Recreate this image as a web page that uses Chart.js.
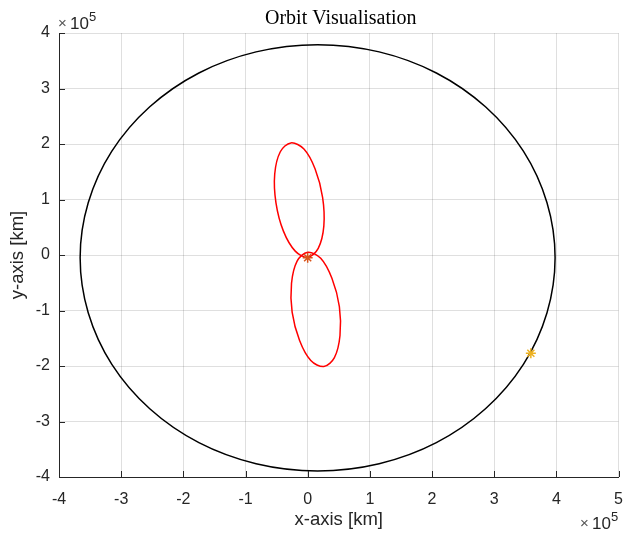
<!DOCTYPE html>
<html>
<head>
<meta charset="utf-8">
<title>Orbit Visualisation</title>
<script src="https://cdn.jsdelivr.net/npm/chart.js@4/dist/chart.umd.min.js"></script>
<style>
  html, body { margin: 0; padding: 0; background: #ffffff; }
  #wrap { width: 625px; height: 535px; }
</style>
</head>
<body>
<div id="wrap"><canvas id="orbit" width="625" height="535"></canvas></div>
<script>
// All positions are in units of 10^5 km (see the ×10^5 axis multipliers).

// Moon orbit around the Earth (closed path, counter-clockwise from the right)
const moonOrbitX = [3.98, 3.85, 3.47, 2.86, 2.07, 1.15, 0.16, -0.83, -1.75, -2.54, -3.15, -3.53,
                    -3.66, -3.53, -3.15, -2.54, -1.75, -0.83, 0.16, 1.15, 2.07, 2.86, 3.47, 3.85];
const moonOrbitY = [-0.05, 0.94, 1.87, 2.67, 3.28, 3.66, 3.79, 3.66, 3.28, 2.67, 1.87, 0.94,
                    -0.05, -1.04, -1.97, -2.77, -3.38, -3.76, -3.89, -3.76, -3.38, -2.77, -1.97, -1.04];

// Spacecraft trajectory: northern loop
const upperLoopX = [-0.27, -0.06, 0.12, 0.24, 0.26, 0.17, 0.00, -0.20, -0.39, -0.51, -0.53, -0.44];
const upperLoopY = [2.02, 1.91, 1.55, 1.04, 0.52, 0.12, -0.04, 0.07, 0.43, 0.94, 1.46, 1.86];

// Spacecraft trajectory: southern loop
const lowerLoopX = [0.26, 0.43, 0.52, 0.51, 0.39, 0.21, 0.00, -0.17, -0.26, -0.25, -0.13, 0.05];
const lowerLoopY = [-2.01, -1.85, -1.45, -0.93, -0.42, -0.06, 0.05, -0.11, -0.51, -1.03, -1.54, -1.90];

// Body markers [x, y]
const earthPos = [0.00, -0.05];
const moonPos = [3.59, -1.77];

// Axis ticks
const xTicks = [-4, -3, -2, -1, 0, 1, 2, 3, 4, 5];
const yTicks = [-4, -3, -2, -1, 0, 1, 2, 3, 4];

const toPoints = (xs, ys) => xs.map((x, i) => ({ x, y: ys[i] }));

const TEXT = '#262626';
const GRID = 'rgba(38,38,38,0.15)';
const SANS = '"Liberation Sans", Arial, Helvetica, sans-serif';
const SERIF = '"Liberation Serif", "Times New Roman", serif';
const CURVE_TENSION = 0.34;

// Turn datasets flagged `closed` into smooth closed curves
const closedCurves = {
  id: 'closedCurves',
  afterDatasetUpdate(chart, args) {
    const ds = chart.data.datasets[args.index];
    const line = args.meta.dataset;
    if (ds.closed && line) {
      line._loop = true;
      line._fullLoop = true;
      line._pointsUpdated = false;
      delete line._segments;
      delete line._path;
    }
  }
};

// Inward tick marks, titles and the ×10^5 multipliers
const decorations = {
  id: 'decorations',
  afterDraw(chart) {
    const { ctx, chartArea: a, scales } = chart;
    const len = 6;
    ctx.save();
    ctx.strokeStyle = TEXT;
    ctx.lineWidth = 1;
    ctx.beginPath();
    xTicks.forEach(v => {
      const px = Math.round(scales.x.getPixelForValue(v)) + 0.5;
      ctx.moveTo(px, a.bottom);
      ctx.lineTo(px, a.bottom - len);
    });
    yTicks.forEach(v => {
      const py = Math.round(scales.y.getPixelForValue(v)) + 0.5;
      ctx.moveTo(a.left, py);
      ctx.lineTo(a.left + len, py);
    });
    ctx.stroke();

    const cx = (a.left + a.right) / 2;
    const cy = (a.top + a.bottom) / 2;
    ctx.fillStyle = '#000000';
    ctx.textAlign = 'center';
    ctx.textBaseline = 'middle';
    ctx.font = '20px ' + SERIF;
    ctx.fillText('Orbit Visualisation', cx + 2, 19);

    ctx.fillStyle = TEXT;
    ctx.font = '18.5px ' + SANS;
    ctx.fillText('x-axis [km]', cx, 520);
    ctx.save();
    ctx.translate(18, cy);
    ctx.rotate(-Math.PI / 2);
    ctx.fillText('y-axis [km]', 0, 0);
    ctx.restore();

    const multiplier = (x, baseline) => {
      ctx.textAlign = 'left';
      ctx.textBaseline = 'alphabetic';
      ctx.fillStyle = '#555555';
      ctx.font = '15px ' + SANS;
      ctx.fillText('×', x, baseline - 1);
      ctx.fillStyle = TEXT;
      ctx.font = '17px ' + SANS;
      ctx.fillText('10', x + 12, baseline);
      ctx.font = '13px ' + SANS;
      ctx.fillText('5', x + 31, baseline - 8);
    };
    multiplier(58, 29);
    multiplier(580, 529);
    ctx.restore();
  }
};

const tickFont = { family: SANS, size: 16 };

new Chart(document.getElementById('orbit'), {
  type: 'line',
  data: {
    datasets: [
      {
        label: 'Earth',
        data: [{ x: earthPos[0], y: earthPos[1] }],
        showLine: false,
        pointStyle: 'star',
        pointRadius: 5,
        pointBorderWidth: 1.5,
        pointBorderColor: '#D95319',
        pointBackgroundColor: '#D95319',
        order: 0
      },
      {
        label: 'Moon',
        data: [{ x: moonPos[0], y: moonPos[1] }],
        showLine: false,
        pointStyle: 'star',
        pointRadius: 5,
        pointBorderWidth: 1.5,
        pointBorderColor: '#EDB120',
        pointBackgroundColor: '#EDB120',
        order: 0
      },
      {
        label: 'Trajectory (north)',
        data: toPoints(upperLoopX, upperLoopY),
        closed: true,
        borderColor: '#ff0000',
        borderWidth: 1.5,
        pointRadius: 0,
        tension: CURVE_TENSION,
        fill: false,
        order: 1
      },
      {
        label: 'Trajectory (south)',
        data: toPoints(lowerLoopX, lowerLoopY),
        closed: true,
        borderColor: '#ff0000',
        borderWidth: 1.5,
        pointRadius: 0,
        tension: CURVE_TENSION,
        fill: false,
        order: 1
      },
      {
        label: 'Moon orbit',
        data: toPoints(moonOrbitX, moonOrbitY),
        closed: true,
        borderColor: '#000000',
        borderWidth: 1.5,
        pointRadius: 0,
        tension: CURVE_TENSION,
        fill: false,
        order: 2
      }
    ]
  },
  options: {
    responsive: false,
    animation: false,
    devicePixelRatio: 1,
    layout: { padding: { top: 33, right: -2, left: 0, bottom: 0 } },
    plugins: {
      legend: { display: false },
      tooltip: { enabled: false },
      title: { display: false }
    },
    scales: {
      x: {
        type: 'linear',
        min: xTicks[0],
        max: xTicks[xTicks.length - 1],
        afterFit: s => { s.height = 58; s.paddingLeft = 0; s.paddingRight = 0; },
        afterBuildTicks: s => { s.ticks = xTicks.map(value => ({ value })); },
        ticks: { font: tickFont, color: TEXT, padding: 13, maxRotation: 0, autoSkip: false, callback: v => String(v) },
        grid: { color: GRID, lineWidth: 1, drawTicks: false },
        border: { display: true, color: TEXT, width: 1 }
      },
      y: {
        type: 'linear',
        min: yTicks[0],
        max: yTicks[yTicks.length - 1],
        afterFit: s => { s.width = 59; s.paddingTop = 0; s.paddingBottom = 0; },
        afterBuildTicks: s => { s.ticks = yTicks.map(value => ({ value })); },
        ticks: { font: tickFont, color: TEXT, padding: 9, autoSkip: false, callback: v => String(v) },
        grid: { color: GRID, lineWidth: 1, drawTicks: false },
        border: { display: true, color: TEXT, width: 1 }
      }
    }
  },
  plugins: [closedCurves, decorations]
});
</script>
</body>
</html>
